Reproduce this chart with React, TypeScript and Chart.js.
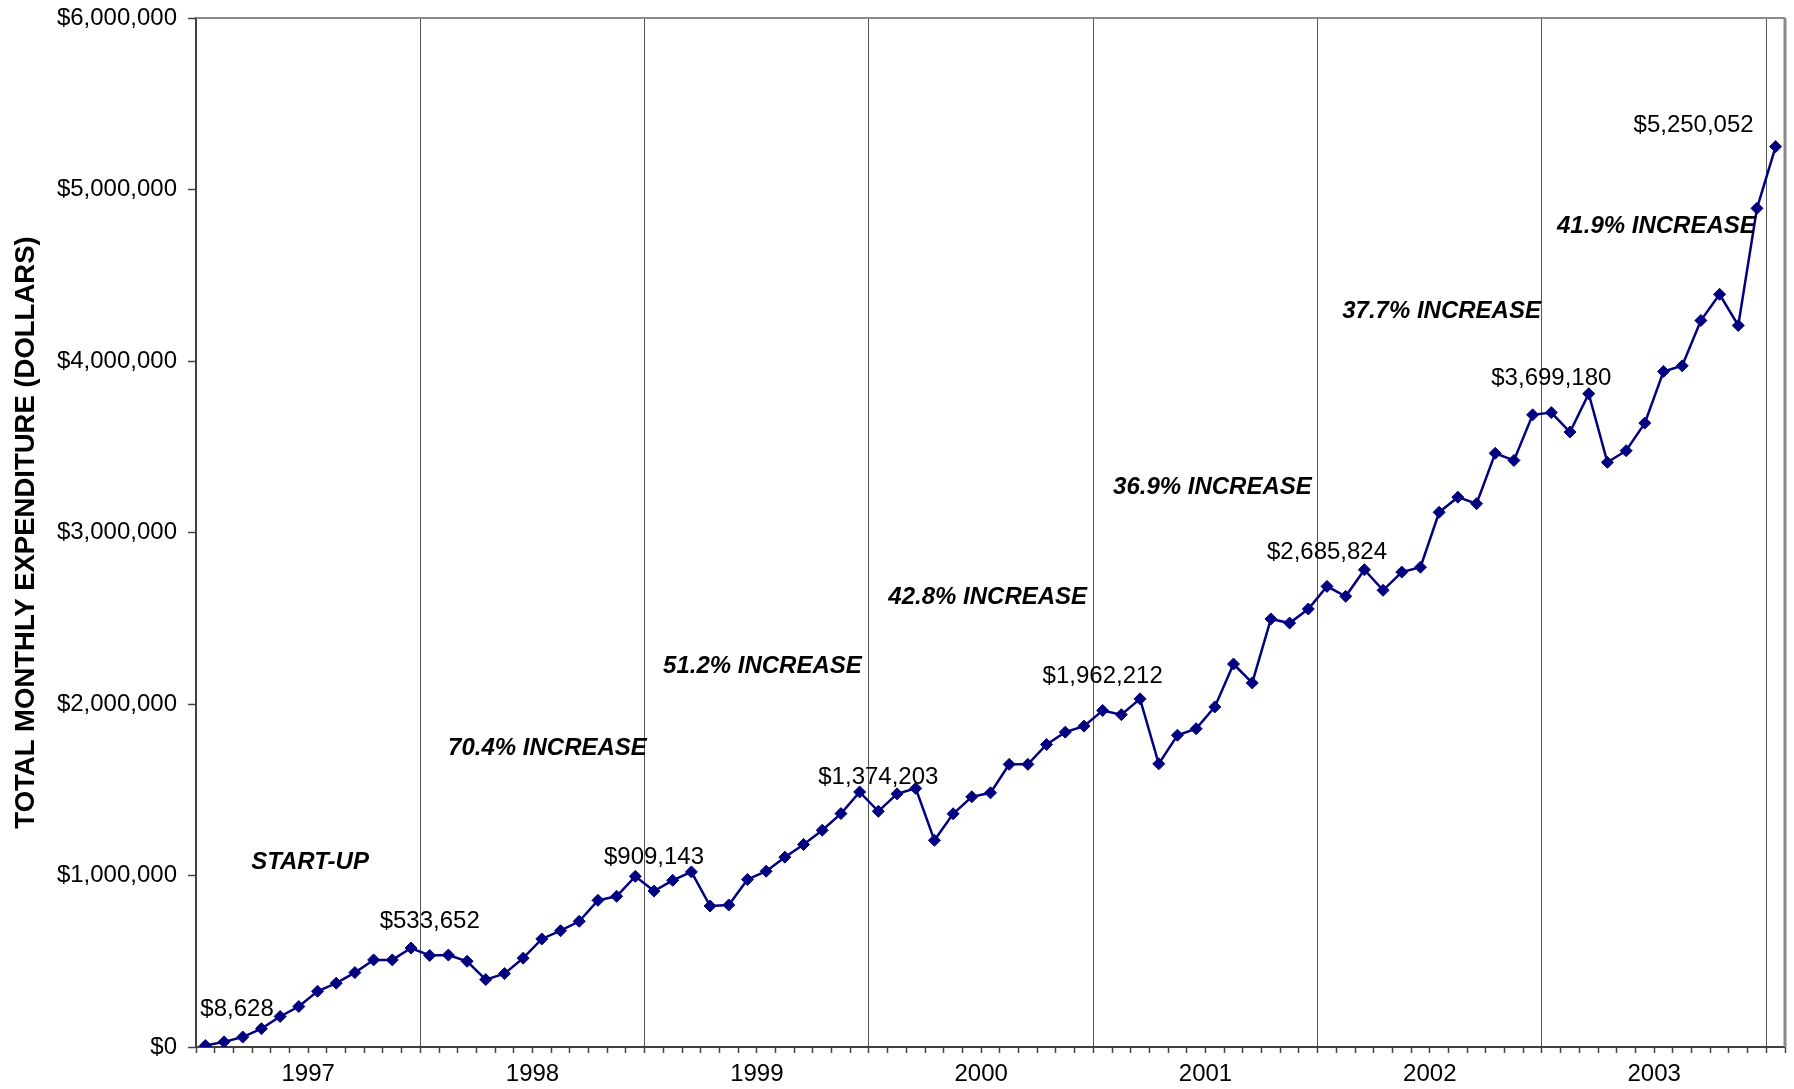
import React, { useEffect, useRef } from "react";
import { Chart, registerables } from "chart.js";

Chart.register(...registerables);

const FONT = "'Liberation Sans', Arial, Helvetica, sans-serif";

const YEARS = ["1997", "1998", "1999", "2000", "2001", "2002", "2003"];

// Total monthly expenditure in dollars, January to December of each year.
const SPEND_1997 = [8628, 30000, 58000, 107000, 178000, 236000, 325000, 372000, 434000, 508000, 508000, 577000];
const SPEND_1998 = [533652, 536000, 500000, 393000, 428000, 518000, 630000, 678000, 733000, 855000, 879000, 995000];
const SPEND_1999 = [909143, 972000, 1021000, 822000, 828000, 977000, 1025000, 1107000, 1181000, 1264000, 1361000, 1487000];
const SPEND_2000 = [1374203, 1476000, 1508000, 1205000, 1360000, 1459000, 1482000, 1648000, 1648000, 1764000, 1836000, 1871000];
const SPEND_2001 = [1962212, 1938000, 2030000, 1651000, 1818000, 1856000, 1983000, 2233000, 2123000, 2496000, 2472000, 2554000];
const SPEND_2002 = [2685824, 2628000, 2783000, 2663000, 2769000, 2798000, 3118000, 3206000, 3168000, 3462000, 3420000, 3686000];
const SPEND_2003 = [3699180, 3586000, 3809000, 3409000, 3477000, 3638000, 3939000, 3972000, 4236000, 4389000, 4207000, 4890000];
const SPEND_2004 = [5250052];

const Y_TICKS = [0, 1000000, 2000000, 3000000, 4000000, 5000000, 6000000];

const Y_TITLE = "TOTAL MONTHLY EXPENDITURE (DOLLARS)";
const FIRST_PHASE = "START-UP";

const SPEND = [
  ...SPEND_1997, ...SPEND_1998, ...SPEND_1999, ...SPEND_2000,
  ...SPEND_2001, ...SPEND_2002, ...SPEND_2003, ...SPEND_2004,
];
const MONTHS = SPEND.length;

// January value of each year (1997 ... 2004)
const JANUARY = [SPEND_1997, SPEND_1998, SPEND_1999, SPEND_2000, SPEND_2001, SPEND_2002, SPEND_2003, SPEND_2004].map((s) => s[0]);

const money = (v: number) => "$" + Math.round(v).toLocaleString("en-US");

// Year-on-year growth (January to January), one note per year
const PHASE_TEXT = YEARS.map((_, k) =>
  k === 0 ? FIRST_PHASE : ((JANUARY[k + 1] / JANUARY[k] - 1) * 100).toFixed(1) + "% INCREASE"
);

// Where each growth note sits, in axis units (month index, dollars)
const PHASE_PLACE = [
  { x: 5.6, y: 1075000 },
  { x: 18.3, y: 1743000 },
  { x: 29.8, y: 2219000 },
  { x: 41.85, y: 2624000 },
  { x: 53.87, y: 3264000 },
  { x: 66.13, y: 4289000 },
  { x: 77.62, y: 4787000 },
];

// Offsets (px) of the January value labels from their point
const VALUE_LABEL_PLACE = [
  { align: "left", dx: -5, dy: -36 },
  { align: "center", dx: 0, dy: -34 },
  { align: "center", dx: 0, dy: -34 },
  { align: "center", dx: 0, dy: -34 },
  { align: "center", dx: 0, dy: -34 },
  { align: "center", dx: 0, dy: -34 },
  { align: "center", dx: 0, dy: -34 },
  { align: "right", dx: -22, dy: -21 },
];

const framePlugin = {
  id: "frame",
  beforeDatasetsDraw(chart: any) {
    const { ctx, chartArea } = chart;
    ctx.save();
    ctx.strokeStyle = "#8a8a8a";
    ctx.lineWidth = 2;
    ctx.beginPath();
    ctx.moveTo(chartArea.left, chartArea.top);
    ctx.lineTo(chartArea.right, chartArea.top);
    ctx.stroke();
    ctx.lineWidth = 3;
    ctx.beginPath();
    ctx.moveTo(chartArea.right, chartArea.top);
    ctx.lineTo(chartArea.right, chartArea.bottom);
    ctx.stroke();
    ctx.restore();
  },
};

const notesPlugin = {
  id: "notes",
  afterDatasetsDraw(chart: any) {
    const { ctx } = chart;
    const xs = chart.scales.x;
    const ys = chart.scales.y;
    ctx.save();
    ctx.fillStyle = "#000";
    ctx.textBaseline = "middle";

    ctx.font = `24px ${FONT}`;
    JANUARY.forEach((v, k) => {
      const p = VALUE_LABEL_PLACE[k];
      const px = xs.getPixelForValue(k * 12);
      const py = ys.getPixelForValue(v);
      ctx.textAlign = p.align;
      ctx.fillText(money(v), px + p.dx, py + p.dy);
    });

    ctx.font = `italic bold 24px ${FONT}`;
    ctx.textAlign = "center";
    PHASE_TEXT.forEach((t, k) => {
      const p = PHASE_PLACE[k];
      ctx.fillText(t, xs.getPixelForValue(p.x), ys.getPixelForValue(p.y));
    });
    ctx.restore();
  },
};

export default function App() {
  const canvasRef = useRef<HTMLCanvasElement | null>(null);

  useEffect(() => {
    const canvas = canvasRef.current;
    if (!canvas) return;
    const chart = new Chart(canvas, {
      type: "line",
      data: {
        datasets: [
          {
            data: SPEND.map((v, i) => ({ x: i, y: v })),
            borderColor: "#000080",
            backgroundColor: "#000080",
            borderWidth: 2.5,
            tension: 0,
            pointStyle: "rectRot",
            pointRadius: 6,
            pointBorderWidth: 1,
            pointBorderColor: "#000080",
            pointBackgroundColor: "#000080",
          },
        ],
      },
      options: {
        responsive: false,
        animation: false,
        events: [],
        layout: { padding: { top: 18, right: 9, bottom: 0, left: 0 } },
        plugins: {
          legend: { display: false },
          tooltip: { enabled: false },
          title: { display: false },
        },
        scales: {
          x: {
            type: "linear",
            min: -0.5,
            max: MONTHS - 0.5,
            afterBuildTicks: (scale: any) => {
              const t = [];
              for (let i = 0; i <= MONTHS; i++) t.push({ value: i - 0.5 });
              scale.ticks = t;
            },
            afterFit: (scale: any) => {
              scale.height = 42;
            },
            ticks: {
              autoSkip: false,
              maxRotation: 0,
              minRotation: 0,
              padding: 7,
              color: "#000",
              font: { family: FONT, size: 24 },
              callback: (value: any) => {
                const k = (Number(value) - 5.5) / 12;
                return Number.isInteger(k) && k >= 0 && k < YEARS.length ? YEARS[k] : "";
              },
            },
            grid: {
              color: (c: any) => {
                const v = c.tick ? c.tick.value : -1;
                return v > 0 && v < MONTHS - 1 && (v + 0.5) % 12 === 0 ? "#555555" : "rgba(0,0,0,0)";
              },
              lineWidth: 1,
              tickColor: "#404040",
              tickLength: 6,
              tickWidth: 1.5,
            },
            border: { display: true, color: "#404040", width: 2 },
          },
          y: {
            min: 0,
            max: 6000000,
            afterBuildTicks: (scale: any) => {
              scale.ticks = Y_TICKS.map((v) => ({ value: v }));
            },
            afterFit: (scale: any) => {
              scale.width = 196;
              scale.paddingTop = 14;
              scale.paddingBottom = 14;
            },
            ticks: {
              padding: 11,
              color: "#000",
              font: { family: FONT, size: 24 },
              callback: (value: any) => money(Number(value)),
            },
            grid: {
              drawOnChartArea: false,
              tickLength: 8,
              tickColor: "#404040",
              tickWidth: 1.5,
            },
            border: { display: true, color: "#404040", width: 2 },
            title: {
              display: true,
              text: Y_TITLE,
              color: "#000",
              font: { family: FONT, size: 27.5, weight: "bold" },
              padding: { top: 10, bottom: 0 },
            },
          },
        },
      },
      plugins: [framePlugin, notesPlugin],
    } as any);
    return () => chart.destroy();
  }, []);

  return (
    <div style={{ position: "fixed", left: 0, top: 0, width: 1794, height: 1089, background: "#fff" }}>
      <canvas ref={canvasRef} width={1794} height={1089} />
    </div>
  );
}
